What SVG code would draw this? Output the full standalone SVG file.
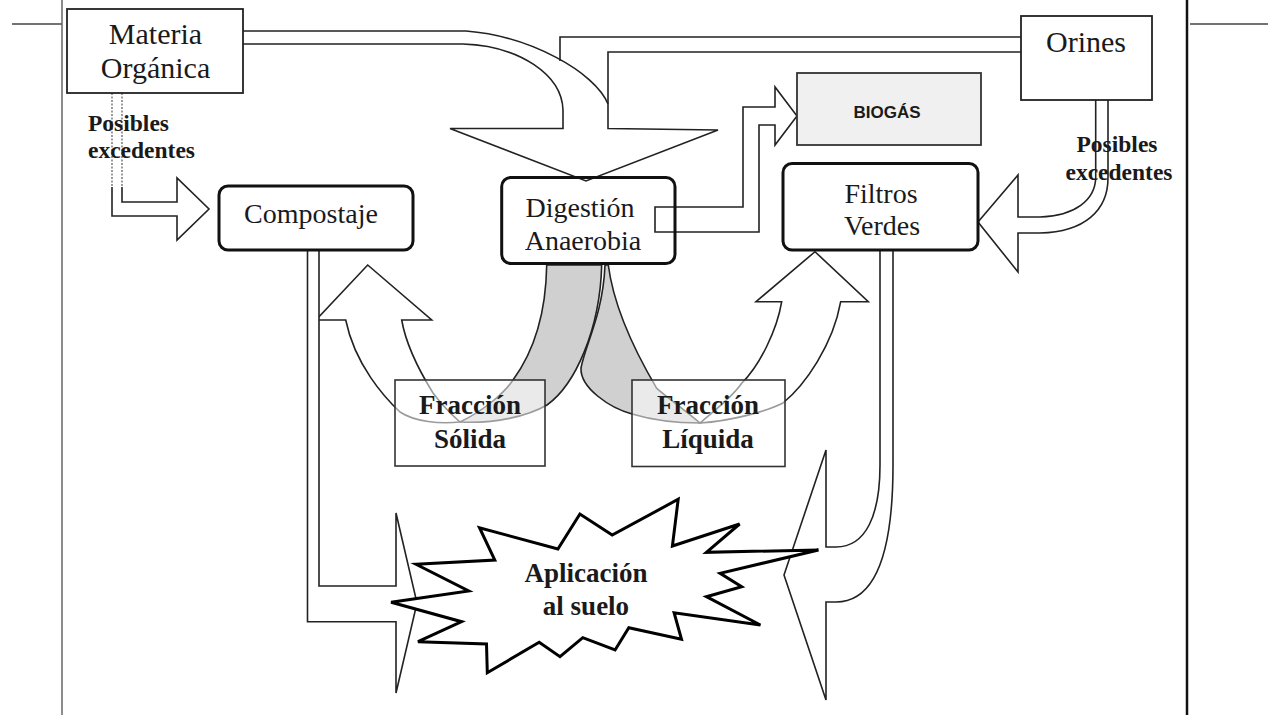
<svg xmlns="http://www.w3.org/2000/svg" width="1268" height="715" viewBox="0 0 1268 715">
<style>
.ln{fill:none;stroke:#222;stroke-width:1.6;stroke-linejoin:miter}
.arw{fill:#fff;stroke:#222;stroke-width:1.6;stroke-linejoin:miter}
.horn{fill:#d0d0d0;stroke:#222;stroke-width:1.6}
.dot{fill:none;stroke:#666;stroke-width:1.3;stroke-dasharray:2 1.5}
.box{fill:#fff;stroke:#222;stroke-width:1.8}
.rbox{fill:#fff;stroke:#111;stroke-width:3}
.fbox{fill:#fff;fill-opacity:0.55;stroke:#333;stroke-width:1.6}
.burst{fill:#fff;stroke:#000;stroke-width:3;stroke-linejoin:miter}
.t{font-family:"Liberation Serif","Times New Roman",serif;fill:#1a1a1a;text-anchor:middle}
.r30{font-size:30px}
.r28{font-size:28px}
.b27{font-size:27px;font-weight:bold}
.b23{font-size:23.5px;font-weight:bold}
.st{text-anchor:start}
.sans{font-family:"Liberation Sans",Arial,sans-serif;font-weight:bold;font-size:17px;fill:#1a1a1a;text-anchor:middle}
</style>
<rect width="1268" height="715" fill="#fff"/>
<g id="page">
<line x1="12" y1="24" x2="62" y2="24" stroke="#444" stroke-width="1.5"/>
<line x1="62" y1="0" x2="62" y2="715" stroke="#666" stroke-width="1.5"/>
<line x1="1187" y1="0" x2="1187" y2="715" stroke="#111" stroke-width="2.5"/>
<line x1="1190" y1="24" x2="1268" y2="24" stroke="#444" stroke-width="1.5"/>
</g>
<g id="connectors">
<path class="ln" d="M243,44 H463 C520,46 562,75 563,110 V128.5 H450 L586,181 L718,130 L608,128.5 V52 H1021"/>
<path class="ln" d="M243,31 H466 C530,36 595,72 608,104"/>
<path class="ln" d="M1021,37 H560 V61"/>
<path class="dot" d="M112,93 V187 M122,93 V187"/>
<path class="ln" d="M112,187 V216 H177 V240 L209,209 L177,178 V202 H122 V187"/>
<path class="arw" d="M1095.7,100 V178 C1095,200 1075,216 1040,217 H1018 V175 L978,222 L1018,272 V233 H1040 C1085,232 1108,210 1108,178 V100"/>
<path class="ln" d="M655,207 H743 V107 H775 V87 L797,116 L775,145 V125 H759 V232 H655 Z"/>
<path class="horn" d="M546.7,265 C546,310 535,350 513,380 C505,392 485,410 460,422 C495,424 528,416 547,405 C575,385 600,330 601.7,265 Z"/>
<path class="horn" d="M605,265 C603,315 585,345 581,368 C580,388 610,408 632,414 C652,420 676,423 700,423 C685,410 668,398 656.7,388.3 C640,360 614,310 608.3,265 Z"/>
<path class="arw" d="M460,422 C440,424 415,422 400,412 C385,398 355,365 345.7,320 H316 L367.7,265 L431.7,320 H401.7 C406,345 420,372 433,393 C442,405 452,415 460,422 Z"/>
<path class="arw" d="M700,423 C730,421 765,412 783,403 C805,385 833,345 840.7,301.7 H868.3 L815,251.7 L756,301.7 H781.7 C777,330 760,365 741.7,383.3 C730,400 712,412 700,423 Z"/>
<path class="arw" d="M307.5,250 V621.7 H396 V693 L417,603 L396,513 V586 H319 V250"/>
<path class="arw" d="M880,250 V465 C880,515 866,547 836,547 H826 V450 L784,575 L826,700 V602 H836 C872,602 893,560 893,465 V250"/>
</g>
<g id="materia">
<rect class="box" x="67" y="9" width="176" height="84"/>
<text class="t r30" x="155.5" y="44">Materia</text>
<text class="t r30" x="155.5" y="78">Orgánica</text>
</g>
<g id="orines">
<rect class="box" x="1021" y="16" width="131" height="84"/>
<text class="t r30" x="1086" y="52">Orines</text>
</g>
<g id="biogas">
<rect x="797" y="73" width="184" height="72" fill="#f0f0f0" stroke="#333" stroke-width="1.8"/>
<text class="sans" x="887" y="118">BIOGÁS</text>
</g>
<g id="compostaje">
<rect class="rbox" x="219" y="186" width="194" height="64" rx="9"/>
<text class="t r28" x="311" y="223">Compostaje</text>
</g>
<g id="digestion">
<rect x="501.7" y="177.5" width="173.3" height="86" rx="9" fill="none" stroke="#111" stroke-width="3"/>
<text class="t r28" x="580" y="217">Digestión</text>
<text class="t r28" x="583" y="250">Anaerobia</text>
</g>
<g id="filtros">
<rect class="rbox" x="783" y="163.5" width="195" height="86.5" rx="9"/>
<text class="t r28" x="881" y="203">Filtros</text>
<text class="t r28" x="882" y="235">Verdes</text>
</g>
<g id="solida">
<rect class="fbox" x="395" y="380" width="150" height="86"/>
<text class="t b27" x="470" y="414">Fracción</text>
<text class="t b27" x="470" y="448">Sólida</text>
</g>
<g id="liquida">
<rect class="fbox" x="632" y="380" width="153" height="86.5"/>
<text class="t b27" x="708" y="414">Fracción</text>
<text class="t b27" x="708" y="448">Líquida</text>
</g>
<g id="aplicacion">
<polygon class="burst" points="416,564.3 494.8,560 479.5,527.7 557.9,549 579.9,514 612.2,535 678.2,499.3 672.4,546 739.6,524 706.4,552.3 818.5,550 720.1,573.3 741.7,586.7 706.4,596.7 760.4,625 674.1,612.7 681.5,639.3 628.8,627.7 615.1,650 582.8,637.7 560,656.7 539.2,642.3 487.3,672.7 486.5,644 418,641.7 461.6,621.7 391.1,602.3 468.7,591"/>
<text class="t b27" x="586" y="582">Aplicación</text>
<text class="t b27" x="586" y="615">al suelo</text>
</g>
<g id="labels">
<text class="t b23 st" x="88" y="131">Posibles</text>
<text class="t b23 st" x="88" y="158">excedentes</text>
<text class="t b23" x="1117" y="152">Posibles</text>
<text class="t b23" x="1119" y="180">excedentes</text>
</g>
</svg>
